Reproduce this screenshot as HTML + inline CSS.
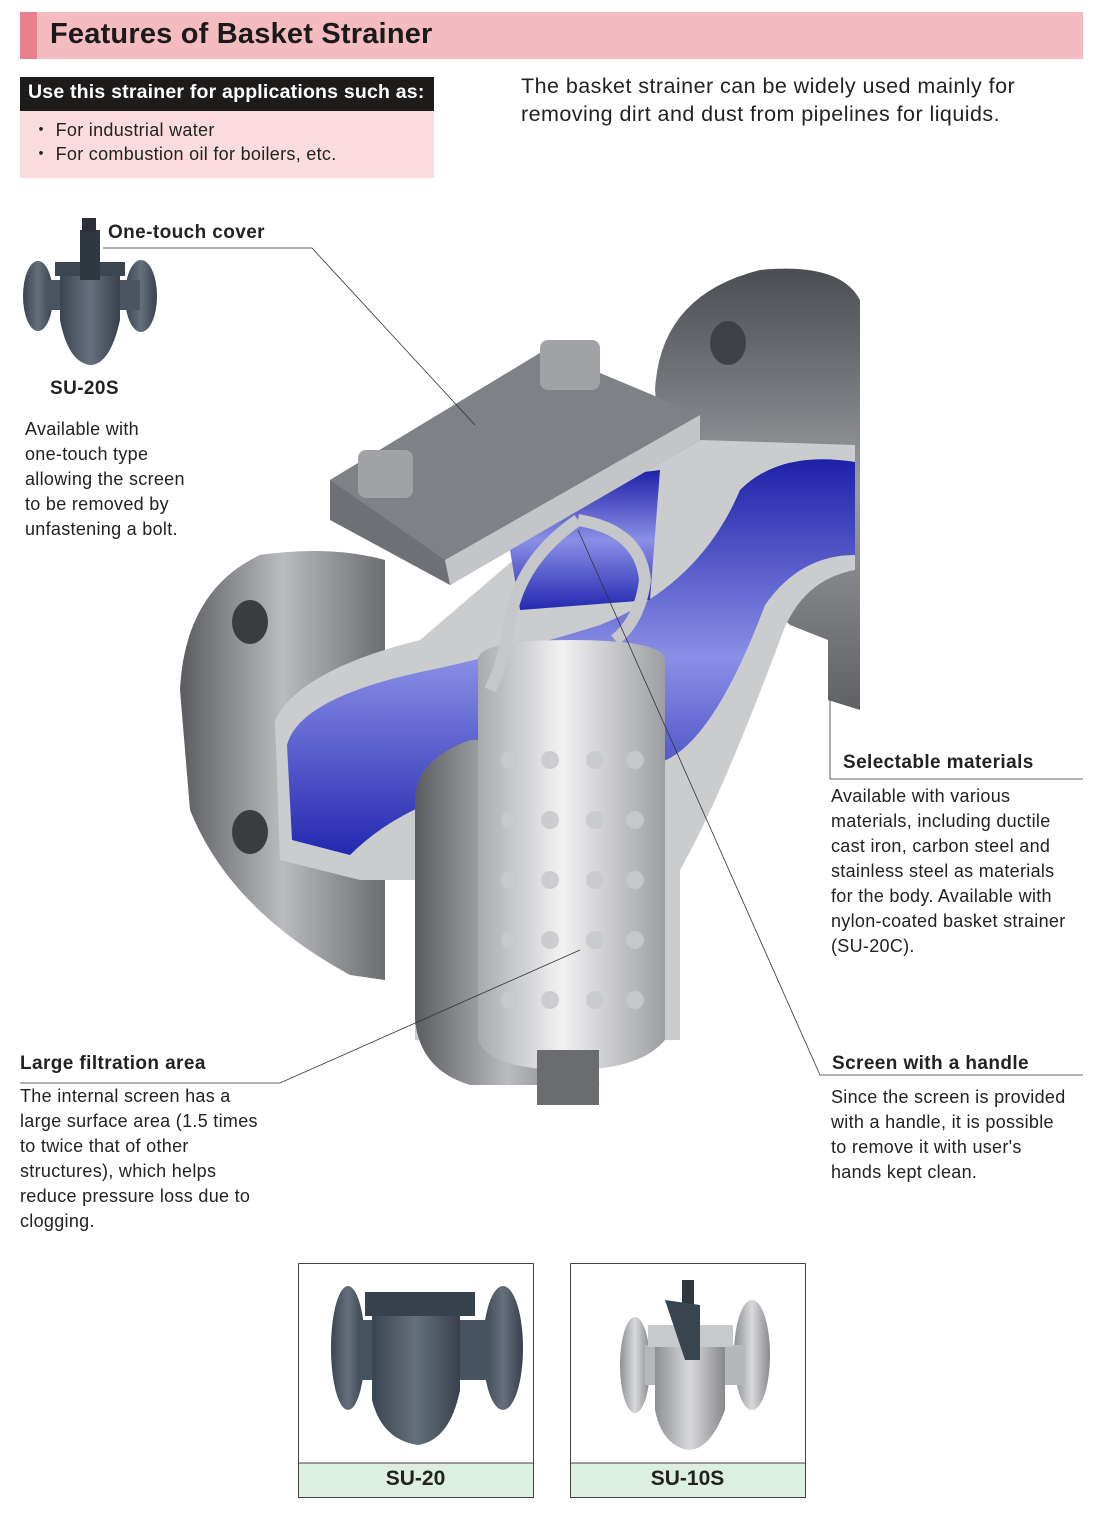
<!DOCTYPE html>
<html><head><meta charset="utf-8"><style>
*{margin:0;padding:0;box-sizing:border-box}
body{width:1104px;height:1513px;background:#fff;position:relative;font-family:"Liberation Sans",sans-serif;color:#222;overflow:hidden}
.a{position:absolute;white-space:nowrap}
.h{font-weight:bold;font-size:19px;letter-spacing:.4px}
.t{font-size:18px;line-height:25px;letter-spacing:.3px}
</style></head><body>
<div class="a" style="left:20px;top:12px;width:1063px;height:47px;background:#f4bcc0"></div>
<div class="a" style="left:20px;top:12px;width:17px;height:47px;background:#e9808d"></div>
<div class="a" style="left:50px;top:18px;font-size:29px;font-weight:bold;color:#1a1a1a;letter-spacing:.2px">Features of Basket Strainer</div>
<div class="a" style="left:20px;top:77px;width:414px;height:34px;background:#1e1b1b"></div>
<div class="a" style="left:28px;top:81px;font-size:19.5px;font-weight:bold;color:#fff;letter-spacing:.2px">Use this strainer for applications such as:</div>
<div class="a" style="left:20px;top:111px;width:414px;height:67px;background:#fbdcde"></div>
<div class="a t" style="left:32px;top:118px;font-size:18px;line-height:24px">・ For industrial water<br>・ For combustion oil for boilers, etc.</div>
<div class="a" style="left:521px;top:72px;font-size:21.5px;line-height:28px;letter-spacing:.45px">The basket strainer can be widely used mainly for<br>removing dirt and dust from pipelines for liquids.</div>

<svg class="a" style="left:0;top:0" width="1104" height="1513">
<defs>
<linearGradient id="g1" x1="0" x2="1"><stop offset="0" stop-color="#5a5c60"/><stop offset=".5" stop-color="#b9bbbe"/><stop offset="1" stop-color="#6b6d70"/></linearGradient>
<linearGradient id="g2" x1="0" y1="0" x2="0" y2="1"><stop offset="0" stop-color="#4a4d52"/><stop offset=".5" stop-color="#9a9ca0"/><stop offset="1" stop-color="#5f6165"/></linearGradient>
<linearGradient id="bl" x1="0" y1="0" x2="0" y2="1"><stop offset="0" stop-color="#1d21a8"/><stop offset=".5" stop-color="#8a8fe6"/><stop offset="1" stop-color="#2329b0"/></linearGradient>
<linearGradient id="bs" x1="0" x2="1"><stop offset="0" stop-color="#a8aaad"/><stop offset=".45" stop-color="#f2f2f3"/><stop offset="1" stop-color="#9c9ea1"/></linearGradient>
<linearGradient id="dk" x1="0" x2="1"><stop offset="0" stop-color="#3b4550"/><stop offset=".5" stop-color="#65707c"/><stop offset="1" stop-color="#38414c"/></linearGradient>
<linearGradient id="ss" x1="0" x2="1"><stop offset="0" stop-color="#8e9094"/><stop offset=".5" stop-color="#d8d9db"/><stop offset="1" stop-color="#88898d"/></linearGradient>
</defs>
<g>
<ellipse cx="38" cy="296" rx="15" ry="35" fill="url(#dk)"/>
<ellipse cx="141" cy="296" rx="16" ry="36" fill="url(#dk)"/>
<rect x="45" y="280" width="95" height="30" fill="#4a5560"/>
<path d="M60 270 H120 V320 Q110 365 90 365 Q68 362 60 320Z" fill="url(#dk)"/>
<rect x="55" y="262" width="70" height="14" fill="#3c4650"/>
<rect x="80" y="230" width="20" height="50" fill="#2f3841"/>
<rect x="82" y="218" width="14" height="14" fill="#2a3038"/>
</g>
<!-- right flange -->
<path d="M655 390 Q660 295 760 270 Q840 262 860 300 V710 L828 700 V640 L790 625 Q720 560 700 480 Q660 450 655 390Z" fill="url(#g2)"/>
<ellipse cx="728" cy="343" rx="18" ry="22" fill="#3e4045"/>
<!-- left flange -->
<path d="M180 690 Q185 590 260 555 Q330 545 385 560 V980 L350 975 Q230 910 190 810 Z" fill="url(#g1)"/>
<ellipse cx="250" cy="622" rx="18" ry="22" fill="#3a3c40"/>
<ellipse cx="250" cy="832" rx="18" ry="22" fill="#3a3c40"/>
<!-- body cut face -->
<path d="M275 720 Q300 670 420 640 L560 520 L700 440 L855 445 V570 Q800 580 780 640 Q720 800 680 870 V1040 L415 1040 V880 L360 880 L280 860 Z" fill="#cbccce"/>
<path d="M287 745 Q300 695 440 668 Q520 650 600 625 Q700 585 740 490 Q780 450 855 462 V555 Q800 555 765 605 Q705 765 645 765 L485 785 Q400 805 350 855 L292 840 Z" fill="url(#bl)"/>
<path d="M500 490 L520 610 L650 600 L660 470 Z" fill="url(#bl)"/>
<path d="M415 800 Q415 760 470 740 H478 V1040 L600 1085 H470 Q420 1070 415 1020Z" fill="url(#g1)"/>
<path d="M478 660 Q478 640 570 640 Q665 640 665 660 V1040 Q640 1070 570 1070 Q490 1070 478 1040Z" fill="url(#bs)"/>
<g fill="#c9cacc" opacity=".9">
<circle cx="510" cy="760" r="9"/><circle cx="550" cy="760" r="9"/><circle cx="595" cy="760" r="9"/><circle cx="635" cy="760" r="9"/>
<circle cx="510" cy="820" r="9"/><circle cx="550" cy="820" r="9"/><circle cx="595" cy="820" r="9"/><circle cx="635" cy="820" r="9"/>
<circle cx="510" cy="880" r="9"/><circle cx="550" cy="880" r="9"/><circle cx="595" cy="880" r="9"/><circle cx="635" cy="880" r="9"/>
<circle cx="510" cy="940" r="9"/><circle cx="550" cy="940" r="9"/><circle cx="595" cy="940" r="9"/><circle cx="635" cy="940" r="9"/>
<circle cx="510" cy="1000" r="9"/><circle cx="550" cy="1000" r="9"/><circle cx="595" cy="1000" r="9"/><circle cx="635" cy="1000" r="9"/>
</g>
<rect x="537" y="1050" width="62" height="55" fill="#6a6c70"/>
<!-- cover -->
<path d="M330 480 L545 350 L700 415 L700 440 L450 585 L330 520 Z" fill="#6d7075"/>
<path d="M330 480 L545 350 L700 415 L445 560 Z" fill="#7e8185"/>
<path d="M445 560 L700 415 V440 L450 585Z" fill="#c3c5c8"/>
<rect x="540" y="340" width="60" height="50" rx="8" fill="#a0a2a6"/>
<rect x="358" y="450" width="55" height="48" rx="8" fill="#a0a2a6"/>
<path d="M578 520 Q640 530 645 580 Q640 620 615 640 M578 520 Q520 560 510 620 Q505 660 490 690" fill="none" stroke="#c5c7ca" stroke-width="12"/>
<g stroke="#333" stroke-width="0.8" fill="none">
<polyline points="103,248 312,248 475,425"/>
<polyline points="830,700 830,779 1083,779"/>
<polyline points="578,530 820,1075 1083,1075"/>
<polyline points="580,950 280,1083 20,1083"/>
</g>
<rect x="298.5" y="1263.5" width="235" height="234" fill="#fff" stroke="#444"/>
<rect x="299" y="1463" width="234" height="34" fill="#dcefe0"/>
<line x1="298" y1="1463" x2="533" y2="1463" stroke="#444"/>
<rect x="570.5" y="1263.5" width="235" height="234" fill="#fff" stroke="#444"/>
<rect x="571" y="1463" width="234" height="34" fill="#dcefe0"/>
<line x1="570" y1="1463" x2="805" y2="1463" stroke="#444"/>
<g>
<ellipse cx="348" cy="1348" rx="17" ry="62" fill="url(#dk)"/>
<ellipse cx="503" cy="1348" rx="20" ry="62" fill="url(#dk)"/>
<rect x="360" y="1320" width="130" height="60" fill="#485360"/>
<path d="M372 1310 H460 V1390 Q450 1440 418 1445 Q382 1440 372 1400Z" fill="url(#dk)"/>
<rect x="365" y="1292" width="110" height="24" fill="#37414b"/>
</g>
<g>
<ellipse cx="635" cy="1365" rx="15" ry="48" fill="url(#ss)"/>
<ellipse cx="752" cy="1355" rx="18" ry="55" fill="url(#ss)"/>
<rect x="645" y="1345" width="100" height="40" fill="#b5b7ba"/>
<path d="M655 1340 H725 V1410 Q710 1450 688 1450 Q662 1445 655 1410Z" fill="url(#ss)"/>
<rect x="648" y="1325" width="85" height="22" fill="#c8c9cc"/>
<rect x="682" y="1280" width="12" height="70" fill="#2f3841"/>
<path d="M665 1300 L700 1305 V1360 H685 Z" fill="#3a444f"/>
</g>
</svg>

<div class="a h" style="left:108px;top:222px">One-touch cover</div>
<div class="a h" style="left:50px;top:378px">SU-20S</div>
<div class="a t" style="left:25px;top:417px">Available with<br>one-touch type<br>allowing the screen<br>to be removed by<br>unfastening a bolt.</div>
<div class="a h" style="left:843px;top:752px">Selectable materials</div>
<div class="a t" style="left:831px;top:784px">Available with various<br>materials, including ductile<br>cast iron, carbon steel and<br>stainless steel as materials<br>for the body. Available with<br>nylon-coated basket strainer<br>(SU-20C).</div>
<div class="a h" style="left:832px;top:1053px">Screen with a handle</div>
<div class="a t" style="left:831px;top:1085px">Since the screen is provided<br>with a handle, it is possible<br>to remove it with user's<br>hands kept clean.</div>
<div class="a h" style="left:20px;top:1053px">Large filtration area</div>
<div class="a t" style="left:20px;top:1084px">The internal screen has a<br>large surface area (1.5 times<br>to twice that of other<br>structures), which helps<br>reduce pressure loss due to<br>clogging.</div>
<div class="a" style="left:298px;top:1467px;width:235px;text-align:center;font-size:21px;font-weight:bold">SU-20</div>
<div class="a" style="left:570px;top:1467px;width:235px;text-align:center;font-size:21px;font-weight:bold">SU-10S</div>
</body></html>
